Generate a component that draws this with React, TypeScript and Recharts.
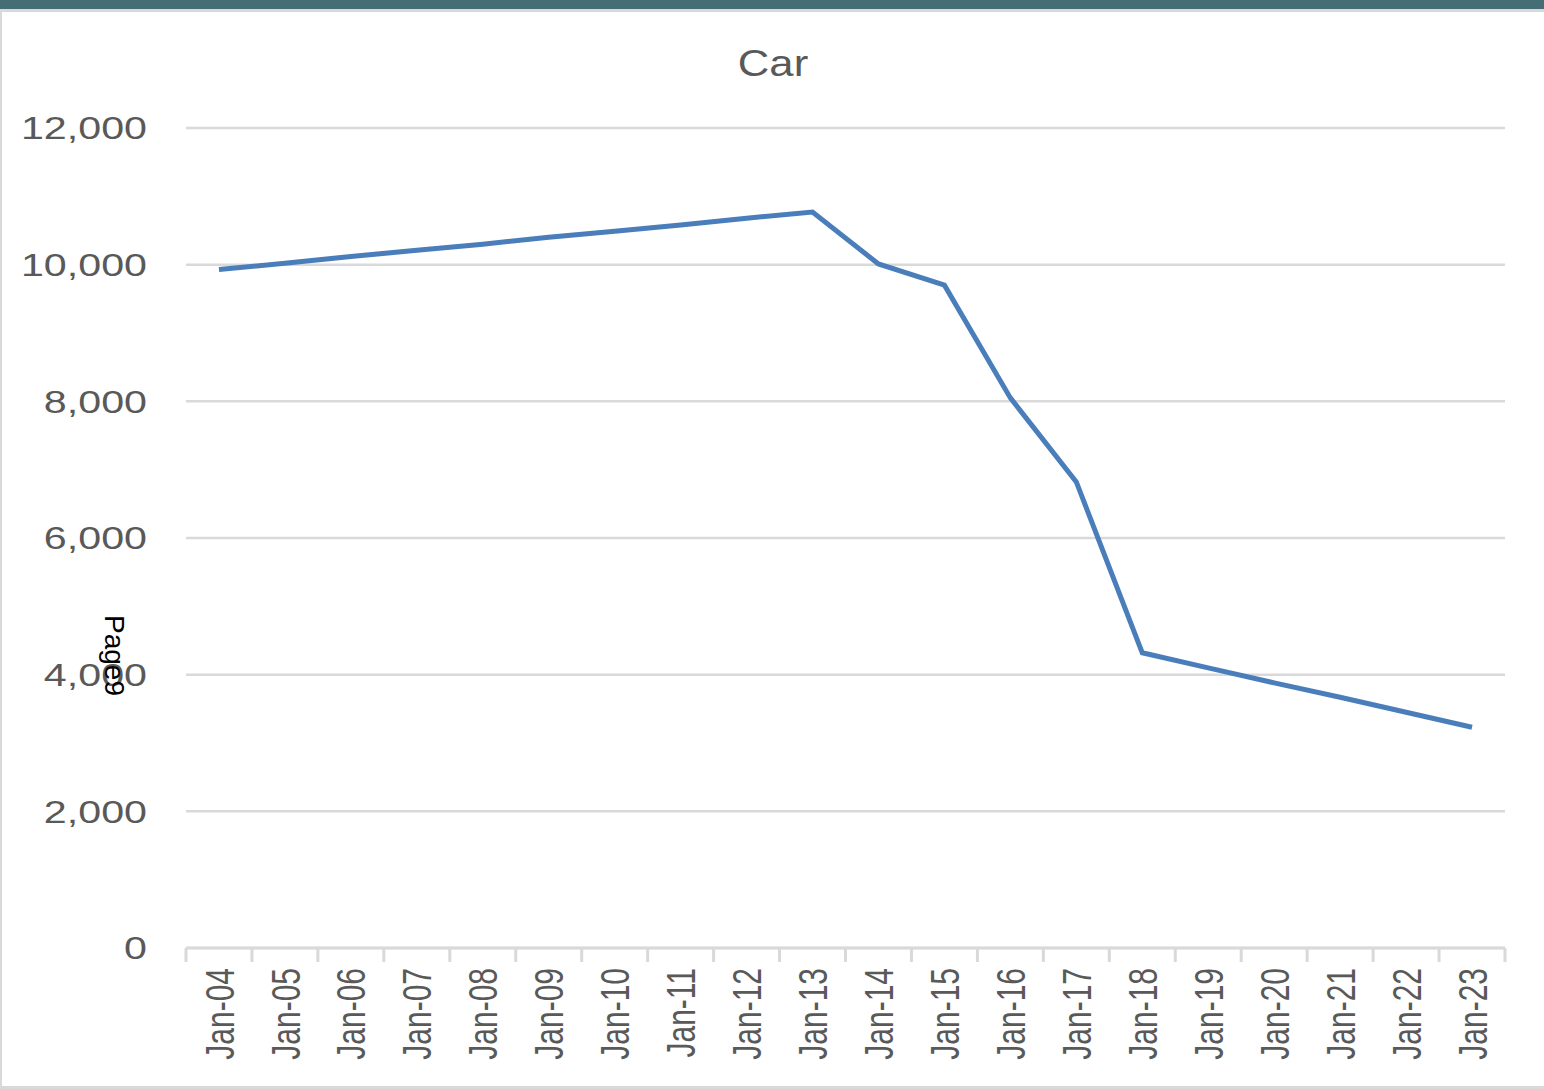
import { CartesianGrid, Line, LineChart, XAxis, YAxis } from "recharts";

const categories = [
  "Jan-04", "Jan-05", "Jan-06", "Jan-07", "Jan-08", "Jan-09", "Jan-10",
  "Jan-11", "Jan-12", "Jan-13", "Jan-14", "Jan-15", "Jan-16", "Jan-17",
  "Jan-18", "Jan-19", "Jan-20", "Jan-21", "Jan-22", "Jan-23",
];
const carValues = [
  9930, 10020, 10120, 10210, 10300, 10400, 10490, 10580, 10680, 10770,
  10010, 9700, 8050, 6820, 4320, 4100, 3880, 3670, 3450, 3230,
];
const yTicks = [0, 2000, 4000, 6000, 8000, 10000, 12000];

const W = 1544;
const H = 1089;
const PLOT_LEFT = 186;
const PLOT_RIGHT = 1505;
const PLOT_TOP = 128;
const PLOT_BOTTOM = 948;
const TEXT = "#595959";
const GRID = "#d9d9d9";
const FONT = "'Liberation Sans', Arial, sans-serif";
// Excel puts each point in the middle of its category slot
const HALF_BAND = (PLOT_RIGHT - PLOT_LEFT) / categories.length / 2;

const data = categories.map((c, i) => ({ category: c, car: carValues[i] }));

function YTick(props: any) {
  const { y, payload } = props;
  return (
    <g transform={`translate(147,${y}) scale(1.33,1)`}>
      <text x={0} y={0} dy="0.36em" textAnchor="end" fill={TEXT} fontSize={31} fontFamily={FONT}>
        {Number(payload.value).toLocaleString("en-US")}
      </text>
    </g>
  );
}

function XTick(props: any) {
  const { x, payload, index } = props;
  return (
    <g>
      <line x1={x - HALF_BAND} x2={x - HALF_BAND} y1={PLOT_BOTTOM} y2={PLOT_BOTTOM + 14} stroke={GRID} strokeWidth={3} />
      {index === categories.length - 1 && (
        <line x1={x + HALF_BAND} x2={x + HALF_BAND} y1={PLOT_BOTTOM} y2={PLOT_BOTTOM + 14} stroke={GRID} strokeWidth={3} />
      )}
      <g transform={`translate(${x},968) scale(1.35,1) rotate(-90)`}>
        <text x={0} y={0} dy="0.36em" textAnchor="end" fill={TEXT} fontSize={30} fontFamily={FONT}>
          {payload.value}
        </text>
      </g>
    </g>
  );
}

export default function App() {
  return (
    <div style={{ position: "absolute", left: 0, top: 0, width: W, height: H, background: "#fff", overflow: "hidden" }}>
      <LineChart
        width={W}
        height={H}
        data={data}
        margin={{ top: PLOT_TOP, right: W - PLOT_RIGHT, bottom: 0, left: 0 }}
      >
        <CartesianGrid vertical={false} stroke={GRID} strokeWidth={2.5} />
        <XAxis
          dataKey="category"
          interval={0}
          height={H - PLOT_BOTTOM}
          padding={{ left: HALF_BAND, right: HALF_BAND }}
          tickLine={false}
          axisLine={{ stroke: GRID, strokeWidth: 3 }}
          tick={<XTick />}
        />
        <YAxis
          width={PLOT_LEFT}
          domain={[0, 12000]}
          ticks={yTicks}
          axisLine={false}
          tickLine={false}
          tick={<YTick />}
        />
        <Line
          type="linear"
          dataKey="car"
          stroke="#4a7ebb"
          strokeWidth={5}
          dot={false}
          isAnimationActive={false}
        />
      </LineChart>
      <svg width={W} height={H} style={{ position: "absolute", left: 0, top: 0, pointerEvents: "none" }}>
        <rect x={0} y={0} width={W} height={9} fill="#466c75" />
        <rect x={0} y={9} width={W} height={3} fill={GRID} />
        <rect x={0} y={9} width={2} height={H} fill={GRID} />
        <rect x={0} y={1086} width={W} height={3} fill={GRID} />
        <g transform="translate(773,76) scale(1.18,1)">
          <text x={0} y={0} textAnchor="middle" fill={TEXT} fontSize={37} fontFamily={FONT}>
            Car
          </text>
        </g>
        <g transform="translate(105,615) rotate(90)">
          <text x={0} y={0} fill="#000" fontSize={28} fontFamily={FONT}>
            Page9
          </text>
        </g>
      </svg>
    </div>
  );
}
